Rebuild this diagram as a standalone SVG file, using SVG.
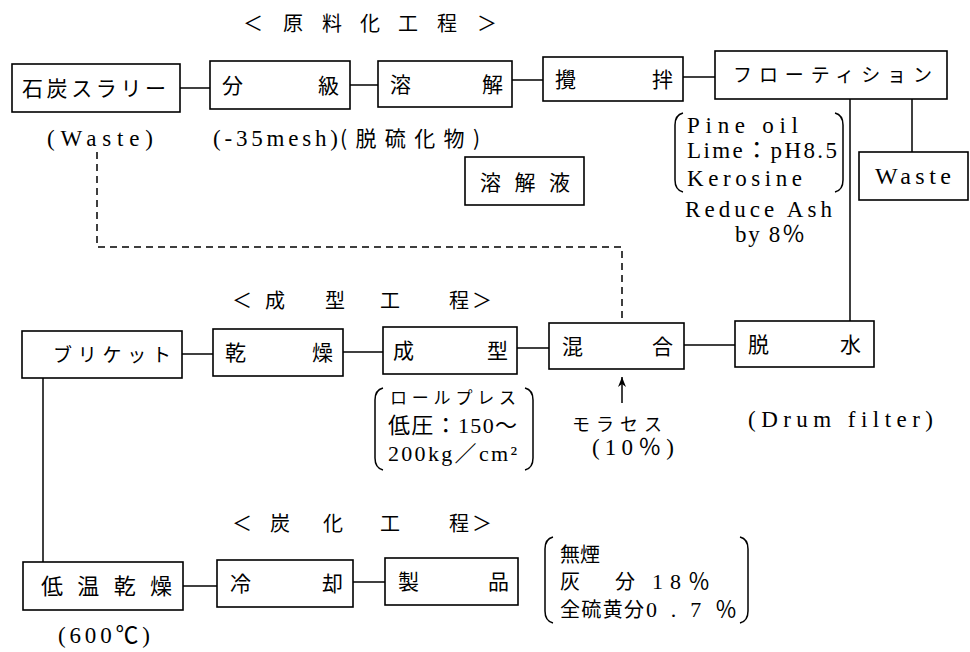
<svg xmlns="http://www.w3.org/2000/svg" width="970" height="652" viewBox="0 0 970 652">
<style>
.box{fill:none;stroke:#000;stroke-width:1.6}
.ln{fill:none;stroke:#000;stroke-width:1.5}
.dash{stroke-dasharray:7 5}
.j{font-family:"Noto Sans CJK JP",sans-serif;font-size:21px;fill:#000}
.t{font-family:"Noto Sans CJK JP",sans-serif;font-size:20px;fill:#000}
.l{font-family:"Liberation Serif","Noto Sans CJK JP",serif;font-size:23px;fill:#000}
</style>
<defs>
<marker id="ah" markerWidth="10" markerHeight="10" refX="10" refY="5" orient="auto" markerUnits="userSpaceOnUse" viewBox="0 0 10 10">
<path d="M0 1 L10 5 L0 9 L3 5 Z" fill="#000"/>
</marker>
</defs>
<rect width="970" height="652" fill="#fff"/>

<!-- section titles -->
<text class="t" x="243 283 322 360 398 437 477" y="31">＜原料化工程＞</text>
<text class="t" x="232 265 325 380 449 472" y="308">＜成型工程＞</text>
<text class="t" x="232 270 323 380 449 472" y="531">＜炭化工程＞</text>

<!-- connectors -->
<g id="connectors">
<line class="ln" x1="180" y1="88" x2="210" y2="88"/>
<line class="ln" x1="350" y1="85" x2="378" y2="85"/>
<line class="ln" x1="512" y1="80" x2="543" y2="80"/>
<line class="ln" x1="683" y1="77" x2="715" y2="77"/>
<line class="ln" x1="850" y1="99" x2="850" y2="321"/>
<line class="ln" x1="912" y1="99" x2="912" y2="152"/>
<polyline class="ln dash" points="97,152 97,247 622,247 622,323"/>
<line class="ln" x1="182" y1="354" x2="213" y2="354"/>
<line class="ln" x1="343" y1="352" x2="383" y2="352"/>
<line class="ln" x1="517" y1="348" x2="549" y2="348"/>
<line class="ln" x1="684" y1="345" x2="735" y2="345"/>
<line class="ln" x1="43" y1="378" x2="43" y2="562"/>
<line class="ln" x1="622" y1="403" x2="622" y2="377" marker-end="url(#ah)"/>
<line class="ln" x1="183" y1="586" x2="217" y2="586"/>
<line class="ln" x1="353" y1="582" x2="385" y2="582"/>
</g>

<!-- top row -->
<g id="n-slurry">
<rect class="box" x="12" y="64" width="168" height="48"/>
<text class="j" x="22" y="96" textLength="144" lengthAdjust="spacing">石炭スラリー</text>
<text class="l" x="47" y="146" textLength="106" lengthAdjust="spacing">(Waste)</text>
</g>
<g id="n-bunkyu">
<rect class="box" x="210" y="61" width="140" height="48"/>
<text class="j" x="222 318" y="93">分級</text>
<text class="l" x="213" y="146" textLength="125" lengthAdjust="spacing">(-35mesh)</text>
<text class="j" x="340" y="146" textLength="140" lengthAdjust="spacing">(脱硫化物)</text>
</g>
<g id="n-yokai">
<rect class="box" x="378" y="61" width="134" height="46"/>
<text class="j" x="390 482" y="92">溶解</text>
</g>
<g id="n-yokaieki">
<rect class="box" x="465" y="157" width="119" height="48"/>
<text class="j" x="480" y="190" textLength="90" lengthAdjust="spacing">溶解液</text>
</g>
<g id="n-kakuhan">
<rect class="box" x="543" y="57" width="140" height="44"/>
<text class="j" x="555 652" y="87">攪拌</text>
</g>
<g id="n-flotation">
<rect class="box" x="715" y="51" width="232" height="48"/>
<text class="j" x="733" y="82" style="font-size:19px" textLength="199" lengthAdjust="spacing">フローティション</text>
<path class="ln" d="M683 113 Q675 115 675 125 L675 180 Q675 190 683 192"/>
<path class="ln" d="M835 113 Q843 115 843 125 L843 180 Q843 190 835 192"/>
<text class="l" x="687" y="133" textLength="111" lengthAdjust="spacing">Pine oil</text>
<text class="l" x="687" y="158" textLength="150" lengthAdjust="spacing">Lime：pH8.5</text>
<text class="l" x="687" y="186" textLength="115" lengthAdjust="spacing">Kerosine</text>
<text class="l" x="685" y="217" textLength="147" lengthAdjust="spacing">Reduce Ash</text>
<text class="l" x="735" y="242" textLength="70" lengthAdjust="spacing">by 8％</text>
</g>
<g id="n-waste">
<rect class="box" x="859" y="152" width="109" height="48"/>
<text class="l" x="875" y="184" textLength="76" lengthAdjust="spacing" style="font-size:24px">Waste</text>
</g>

<!-- middle row -->
<g id="n-briquette">
<rect class="box" x="22" y="331" width="160" height="47"/>
<text class="j" x="53" y="362" style="font-size:19px" textLength="118" lengthAdjust="spacing">ブリケット</text>
</g>
<g id="n-kanso">
<rect class="box" x="213" y="329" width="130" height="47"/>
<text class="j" x="225 312" y="360">乾燥</text>
</g>
<g id="n-seikei">
<rect class="box" x="383" y="327" width="134" height="47"/>
<text class="j" x="393 487" y="358">成型</text>
<path class="ln" d="M383 388 Q375 390 375 400 L375 458 Q375 468 383 470"/>
<path class="ln" d="M525 388 Q533 390 533 400 L533 458 Q533 468 525 470"/>
<text class="j" x="390" y="404" style="font-size:17px" textLength="126" lengthAdjust="spacing">ロールプレス</text>
<text class="l" x="388" y="433" textLength="129" lengthAdjust="spacing" style="font-size:22px">低圧：150～</text>
<text class="l" x="388" y="461" textLength="129" lengthAdjust="spacing" style="font-size:22px">200kg／cm²</text>
</g>
<g id="n-kongo">
<rect class="box" x="549" y="323" width="135" height="46"/>
<text class="j" x="562 652" y="354">混合</text>
<text class="j" x="572" y="431" style="font-size:18px" textLength="90" lengthAdjust="spacing">モラセス</text>
<text class="l" x="592" y="455" textLength="82" lengthAdjust="spacing">(10％)</text>
</g>
<g id="n-dassui">
<rect class="box" x="735" y="321" width="139" height="46"/>
<text class="j" x="748 840" y="352">脱水</text>
<text class="l" x="748" y="427" textLength="185" lengthAdjust="spacing">(Drum filter)</text>
</g>

<!-- bottom row -->
<g id="n-teion">
<rect class="box" x="23" y="562" width="160" height="48"/>
<text class="j" x="41" y="594" style="font-size:22px" textLength="131" lengthAdjust="spacing">低温乾燥</text>
<text class="l" x="58" y="643" textLength="92" lengthAdjust="spacing">(600℃)</text>
</g>
<g id="n-reikyaku">
<rect class="box" x="217" y="560" width="136" height="47"/>
<text class="j" x="230 322" y="591">冷却</text>
</g>
<g id="n-seihin">
<rect class="box" x="385" y="558" width="133" height="47"/>
<text class="j" x="398 488" y="589">製品</text>
<path class="ln" d="M553 537 Q545 539 545 549 L545 611 Q545 621 553 623"/>
<path class="ln" d="M740 537 Q748 539 748 549 L748 611 Q748 621 740 623"/>
<text class="j" x="560" y="562" style="font-size:20px">無煙</text>
<text class="j" x="560 615" y="589" style="font-size:20px">灰分</text>
<text class="l" x="652" y="589" textLength="58" lengthAdjust="spacing" style="font-size:22px">18％</text>
<text class="j" x="560" y="617" textLength="84" lengthAdjust="spacing" style="font-size:20px">全硫黄分</text>
<text class="l" x="646" y="617" textLength="91" lengthAdjust="spacing" style="font-size:22px">0.7％</text>
</g>
</svg>
